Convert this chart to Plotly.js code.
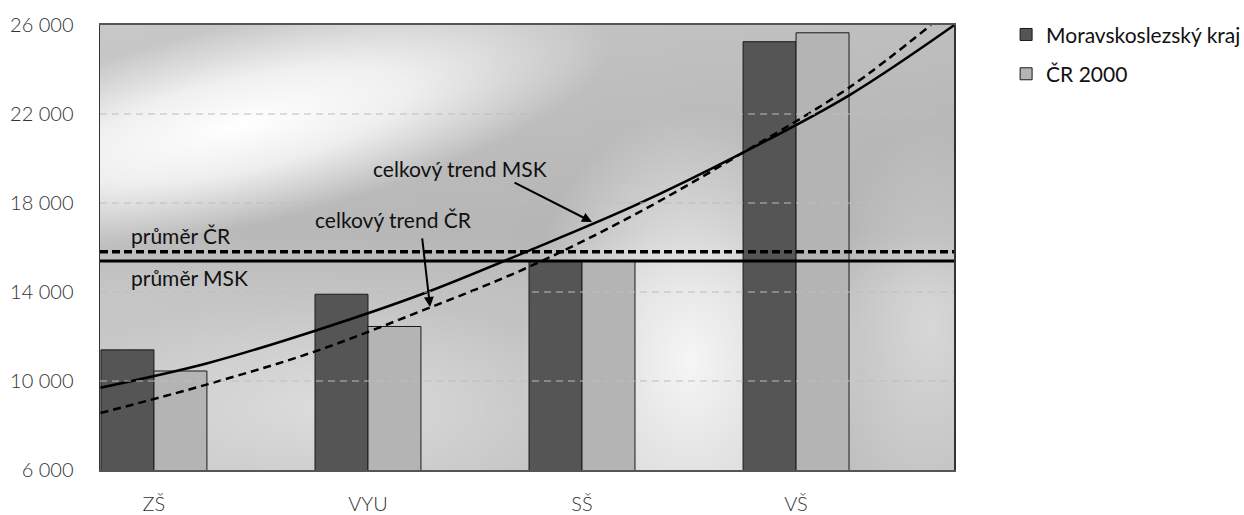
<!DOCTYPE html>
<html>
<head>
<meta charset="utf-8">
<script src="https://cdn.plot.ly/plotly-3.0.1.min.js"></script>
<style>
  html, body { margin: 0; padding: 0; background: #fff; }
  #chart { width: 1244px; height: 515px; }
</style>
</head>
<body>
<div id="chart"></div>
<script>
// ---- data ----
const categories = ['ZŠ', 'VYU', 'SŠ', 'VŠ'];
const categoryPos = [0, 1, 2, 3];
const mskValues = [11400, 13900, 15390, 25250];
const crValues = [10450, 12450, 15390, 25650];
const seriesNames = ['Moravskoslezský kraj', 'ČR 2000'];

const avgMSK = 15390;
const avgCR = 15810;

const trendMSKx = [-0.25, 0.25, 0.75, 1.25, 1.75, 2.25, 2.75, 3.25, 3.74];
const trendMSKy = [9700, 10800, 12250, 13900, 15850, 17900, 20250, 22850, 26000];
const trendCRx = [-0.25, 0.25, 0.75, 1.25, 1.75, 2.25, 2.75, 3.25, 3.63];
const trendCRy = [8560, 9850, 11320, 13150, 15120, 17500, 20250, 23200, 26000];

const yTickVals = [6000, 10000, 14000, 18000, 22000, 26000];
const gridVals = [10000, 14000, 18000, 22000];

const labelTexts = {
  avgCR: 'průměr ČR',
  avgMSK: 'průměr MSK',
  trendMSK: 'celkový trend MSK',
  trendCR: 'celkový trend ČR'
};

// ---- background texture (gradient) ----
const bgSvg =
  '<svg xmlns="http://www.w3.org/2000/svg" width="854" height="445" viewBox="0 0 854 445" preserveAspectRatio="none">' +
  '<defs>' +
  '<radialGradient id="g1"><stop offset="0" stop-color="#ffffff" stop-opacity="1"/><stop offset="0.45" stop-color="#ffffff" stop-opacity="0.75"/><stop offset="1" stop-color="#ffffff" stop-opacity="0"/></radialGradient>' +
  '<radialGradient id="g2"><stop offset="0" stop-color="#ffffff" stop-opacity="0.85"/><stop offset="0.5" stop-color="#ffffff" stop-opacity="0.5"/><stop offset="1" stop-color="#ffffff" stop-opacity="0"/></radialGradient>' +
  '<radialGradient id="g3"><stop offset="0" stop-color="#ffffff" stop-opacity="0.4"/><stop offset="1" stop-color="#ffffff" stop-opacity="0"/></radialGradient>' +
  '<linearGradient id="lv" x1="0" y1="0" x2="0" y2="1"><stop offset="0" stop-color="#c8c8c8"/><stop offset="0.47" stop-color="#bababa"/><stop offset="0.6" stop-color="#c6c6c6"/><stop offset="1" stop-color="#c9c9c9"/></linearGradient>' +
  '<linearGradient id="lh" x1="0" y1="0" x2="1" y2="0"><stop offset="0" stop-color="#000" stop-opacity="0"/><stop offset="1" stop-color="#000" stop-opacity="0.05"/></linearGradient>' +
  '</defs>' +
  '<rect x="0" y="0" width="854" height="445" fill="url(#lv)"/>' +
  '<rect x="0" y="0" width="854" height="445" fill="url(#lh)"/>' +
  '<ellipse cx="0" cy="0" rx="380" ry="100" fill="url(#g1)" transform="translate(140 100) rotate(-13)"/>' +
  '<ellipse cx="590" cy="335" rx="170" ry="250" fill="url(#g2)"/>' +
  '<ellipse cx="830" cy="300" rx="110" ry="200" fill="url(#g3)"/>' +
  '<ellipse cx="230" cy="380" rx="280" ry="110" fill="url(#g3)"/>' +
  '</svg>';
const bgUri = 'data:image/svg+xml;charset=utf-8,' + encodeURIComponent(bgSvg);

const FONT = 'Lato, "Open Sans", "DejaVu Sans", sans-serif';

const traces = [
  {
    type: 'bar', name: seriesNames[0], x: categoryPos, y: mskValues,
    marker: { color: '#555555', line: { color: '#1a1a1a', width: 1 } },
    legendgroup: 'a', hoverinfo: 'y'
  },
  {
    type: 'bar', name: seriesNames[1], x: categoryPos, y: crValues,
    marker: { color: '#b4b4b4', line: { color: '#1a1a1a', width: 1 } },
    legendgroup: 'b', hoverinfo: 'y'
  },
  {
    type: 'scatter', mode: 'lines', x: trendCRx, y: trendCRy, showlegend: false,
    line: { color: '#000', width: 2.5, dash: '8px,5px', shape: 'spline', smoothing: 1 },
    hoverinfo: 'skip'
  },
  {
    type: 'scatter', mode: 'lines', x: trendMSKx, y: trendMSKy, showlegend: false,
    line: { color: '#000', width: 2.5, shape: 'spline', smoothing: 1 },
    hoverinfo: 'skip'
  }
];

const shapes = [];
gridVals.forEach(v => shapes.push({
  type: 'line', xref: 'paper', x0: 0, x1: 1, yref: 'y', y0: v, y1: v,
  line: { color: '#bdbdbd', width: 1, dash: '7px,5px' }, layer: 'above'
}));
shapes.push({
  type: 'line', xref: 'paper', x0: 0, x1: 1, yref: 'y', y0: avgCR, y1: avgCR,
  line: { color: '#000', width: 3.5, dash: '8px,4px' }, layer: 'above'
});
shapes.push({
  type: 'line', xref: 'paper', x0: 0, x1: 1, yref: 'y', y0: avgMSK, y1: avgMSK,
  line: { color: '#000', width: 3 }, layer: 'above'
});

const annFont = { family: FONT, size: 21, color: '#111' };
const annotations = [
  { x: -0.115, y: 16560, xref: 'x', yref: 'y', text: labelTexts.avgCR, showarrow: false, xanchor: 'left', yanchor: 'middle', font: annFont },
  { x: -0.115, y: 14650, xref: 'x', yref: 'y', text: labelTexts.avgMSK, showarrow: false, xanchor: 'left', yanchor: 'middle', font: annFont },
  { x: 1.43, y: 19550, xref: 'x', yref: 'y', text: labelTexts.trendMSK, showarrow: false, xanchor: 'center', yanchor: 'middle', font: annFont },
  { x: 1.12, y: 17280, xref: 'x', yref: 'y', text: labelTexts.trendCR, showarrow: false, xanchor: 'center', yanchor: 'middle', font: annFont },
  { x: 2.047, y: 17150, xref: 'x', yref: 'y', text: '', showarrow: true, ax: -79, ay: -40, arrowhead: 2, arrowsize: 1, arrowwidth: 2, arrowcolor: '#000' },
  { x: 1.29, y: 13330, xref: 'x', yref: 'y', text: '', showarrow: true, ax: -8, ay: -70, arrowhead: 2, arrowsize: 1, arrowwidth: 2, arrowcolor: '#000' }
];

const layout = {
  width: 1244, height: 515,
  margin: { l: 100, r: 290, t: 25, b: 45, pad: 0, autoexpand: false },
  paper_bgcolor: '#ffffff',
  plot_bgcolor: 'rgba(0,0,0,0)',
  separators: ', ',
  font: { family: FONT, size: 19, color: '#333' },
  barmode: 'group', bargap: 0.505, bargroupgap: 0,
  showlegend: true,
  legend: {
    x: 1.061, xanchor: 'left', y: 1.024, yanchor: 'top',
    traceorder: 'grouped', tracegroupgap: 9,
    font: { family: FONT, size: 21, color: '#111' },
    bgcolor: 'rgba(0,0,0,0)'
  },
  xaxis: {
    type: 'linear', range: [-0.252, 3.738],
    tickvals: categoryPos, ticktext: categories,
    showgrid: false, zeroline: false,
    showline: true, linecolor: '#555', linewidth: 2, mirror: true,
    ticks: '', ticklabelstandoff: 15,
    tickfont: { family: FONT, size: 20, color: '#333', weight: 300 }
  },
  yaxis: {
    range: [6000, 26000], tickvals: yTickVals, tickformat: ',d', separatethousands: true,
    showgrid: false, zeroline: false,
    showline: true, linecolor: '#333', linewidth: 1.5, mirror: true,
    ticks: '', ticklabelstandoff: 21,
    tickfont: { family: FONT, size: 20, color: '#333', weight: 300 }
  },
  images: [{
    source: bgUri, xref: 'paper', yref: 'paper', x: 0, y: 1, sizex: 1, sizey: 1,
    xanchor: 'left', yanchor: 'top', sizing: 'stretch', layer: 'below'
  }],
  shapes: shapes,
  annotations: annotations
};

Plotly.newPlot('chart', traces, layout, { displayModeBar: false, staticPlot: true });
</script>
</body>
</html>
